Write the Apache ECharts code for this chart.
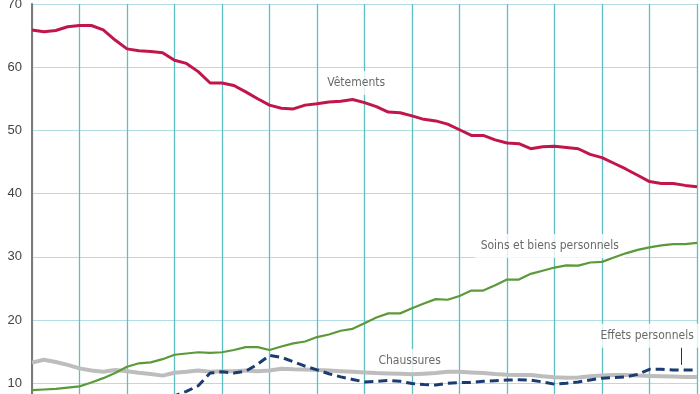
<!DOCTYPE html>
<html><head><meta charset="utf-8">
<script src="https://cdn.jsdelivr.net/npm/echarts@6/dist/echarts.min.js"></script>
<style>html,body{margin:0;padding:0;background:#fff}#c{width:700px;height:394px}</style>
</head><body><div id="c"></div>
<script>
var periods = 57; // index positions 0..56
var yTicks = [0,10,20,30,40,50,60,70];
var vetements = [65.9,65.6,65.8,66.4,66.6,66.6,65.9,64.3,62.9,62.6,62.5,62.3,61.1,60.6,59.3,57.5,57.5,57.1,56.1,55.0,54.0,53.5,53.4,54.0,54.2,54.5,54.6,54.9,54.4,53.75,52.9,52.8,52.3,51.75,51.5,51.0,50.1,49.2,49.2,48.5,48.0,47.9,47.1,47.4,47.5,47.3,47.1,46.2,45.7,44.8,43.9,42.9,41.9,41.6,41.6,41.3,41.1];
var soins = [8.9,9.0,9.1,9.3,9.5,10.1,10.8,11.6,12.6,13.15,13.3,13.8,14.5,14.7,14.9,14.8,14.9,15.25,15.7,15.7,15.25,15.8,16.3,16.6,17.3,17.7,18.3,18.6,19.5,20.4,21.05,21.05,21.85,22.6,23.3,23.2,23.8,24.65,24.65,25.5,26.4,26.4,27.3,27.8,28.3,28.65,28.6,29.1,29.2,29.9,30.55,31.1,31.5,31.8,32.0,32.0,32.2];
var chaussures = [13.25,13.7,13.35,12.9,12.35,12.0,11.8,12.1,11.9,11.65,11.45,11.2,11.65,11.8,12.0,11.8,11.9,11.9,12.0,11.9,12.0,12.3,12.2,12.15,12.1,12.0,11.9,11.8,11.7,11.6,11.55,11.5,11.4,11.5,11.6,11.8,11.8,11.7,11.6,11.45,11.35,11.3,11.3,11.1,10.95,10.85,10.9,11.1,11.2,11.3,11.3,11.2,11.15,11.1,11.05,11.0,11.0];
var effets = [5.6,5.7,5.8,5.9,6.0,6.1,6.3,6.5,6.7,6.9,7.1,7.5,8.0,8.7,9.6,11.6,11.8,11.6,11.9,13.0,14.4,14.1,13.4,12.7,12.1,11.5,11.0,10.6,10.2,10.3,10.45,10.3,9.95,9.8,9.7,10.0,10.1,10.1,10.3,10.4,10.5,10.55,10.5,10.2,9.85,10.0,10.2,10.5,10.8,10.9,11.0,11.4,12.2,12.2,12.1,12.1,12.1];
var annLabels = ['Vêtements','Soins et biens personnels','Chaussures','Effets personnels'];
var annX = [27.3, 43.6, 31.8, 51.8];
var annY = [57.5, 31.7, 13.5, 17.5];
function pairs(arr){ return arr.map(function(v,i){return [i,v];}); }
var font = "'Liberation Sans Narrow','DejaVu Sans Condensed',sans-serif";
var chart = echarts.init(document.getElementById('c'), null, {renderer:'canvas'});
chart.setOption({
  animation:false,
  grid:{left:32, right:3, top:4, height:442.4, containLabel:false, outerBoundsMode:'none'},
  xAxis:{type:'value', min:0, max:periods-1, interval:4,
    axisLine:{show:false}, axisTick:{show:false}, axisLabel:{show:false},
    splitLine:{show:true, lineStyle:{color:'#5dbfc1', width:1.3}}},
  yAxis:{type:'value', min:yTicks[0], max:yTicks[yTicks.length-1], interval:10,
    axisLine:{show:true, lineStyle:{color:'#7a7a7a', width:2}},
    axisTick:{show:false},
    axisLabel:{color:'#444', fontSize:13, fontFamily:"'Liberation Sans',Arial,sans-serif", margin:10},
    splitLine:{show:true, lineStyle:{color:'#b3dde5', width:1.2}}},
  series:[
    {name:'labels', type:'scatter', symbolSize:0, silent:true, z:1,
      data:annLabels.map(function(t,i){return {value:[annX[i],annY[i]], name:t};}),
      label:{show:true, position:'inside', formatter:'{b}', color:'#444', fontSize:12, fontFamily:font,
        backgroundColor:'#fff', padding:[6,6]}},
    {name:'Chaussures', type:'line', data:pairs(chaussures), symbol:'none',
      lineStyle:{color:'#bdbdbd', width:4}, z:2},
    {name:'Effets personnels', type:'line', data:pairs(effets), symbol:'none',
      lineStyle:{color:'#1b3c72', width:3, type:[9,5]}, z:3,
      markLine:{symbol:'none', silent:true, label:{show:false},
        lineStyle:{color:'#333', width:1, type:'solid'},
        data:[[{coord:[54.7,15.6]},{coord:[54.7,12.9]}]]}},
    {name:'Soins et biens personnels', type:'line', data:pairs(soins), symbol:'none',
      lineStyle:{color:'#5b9a3b', width:2.2}, z:4},
    {name:'Vêtements', type:'line', data:pairs(vetements), symbol:'none',
      lineStyle:{color:'#c2164b', width:3}, z:5}
  ]
});
</script></body></html>
